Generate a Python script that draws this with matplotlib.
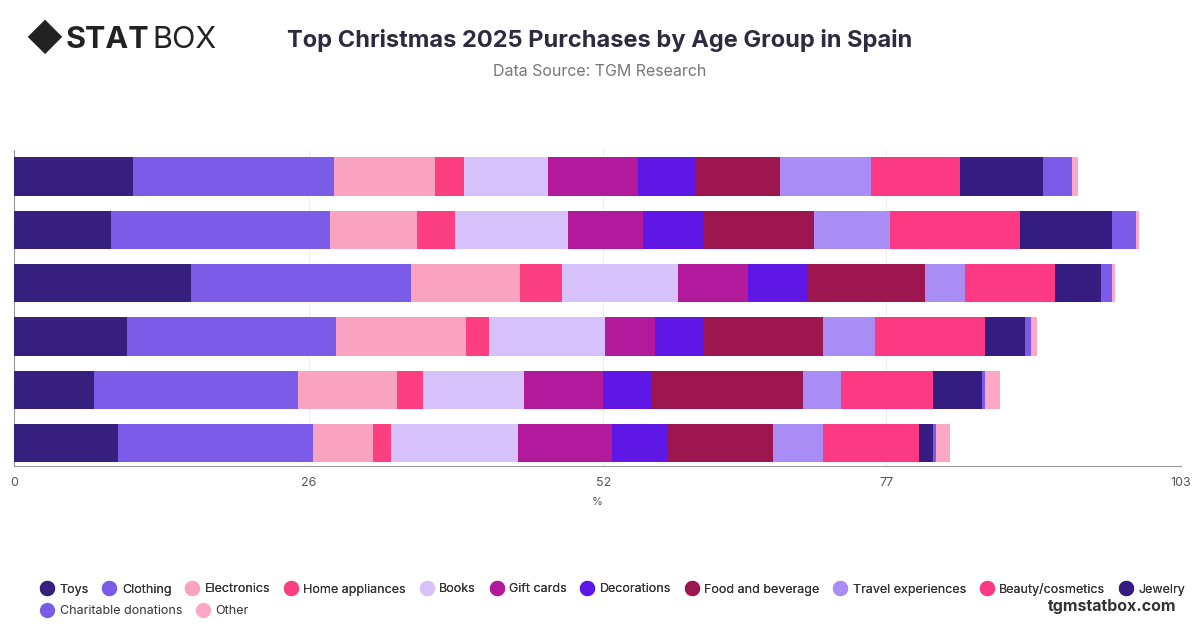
import matplotlib
matplotlib.use("Agg")
import matplotlib.pyplot as plt
import numpy as np

plt.rcParams['font.family'] = ['Inter', 'DejaVu Sans']

groups = ["G1", "G2", "G3", "G4", "G5", "G6"]
categories = ["Toys", "Clothing", "Electronics", "Home appliances", "Books", "Gift cards",
              "Decorations", "Food and beverage", "Travel experiences", "Beauty/cosmetics",
              "Jewelry", "Charitable donations", "Other"]
values = [
    [10.5, 17.7, 9.0, 2.5, 7.4, 8.0, 5.1, 7.4, 8.0, 7.9, 7.3, 2.6, 0.5],
    [8.6, 19.3, 7.7, 3.3, 10.0, 6.6, 5.4, 9.7, 6.7, 11.5, 8.1, 2.1, 0.3],
    [15.6, 19.4, 9.7, 3.7, 10.2, 6.2, 5.3, 10.3, 3.5, 8.0, 4.0, 1.0, 0.3],
    [10.0, 18.4, 11.5, 2.0, 10.3, 4.4, 4.3, 10.5, 4.6, 9.7, 3.5, 0.6, 0.5],
    [7.1, 18.0, 8.7, 2.3, 8.9, 7.0, 4.3, 13.3, 3.4, 8.1, 4.3, 0.3, 1.3],
    [9.2, 17.2, 5.3, 1.6, 11.2, 8.3, 4.8, 9.4, 4.4, 8.5, 1.2, 0.3, 1.2],
]
colors = ["#35207f", "#7b5ce8", "#f9a3c0", "#fb3f80", "#d7c1fb", "#b3199b", "#5f17e6",
          "#9e1650", "#a98df5", "#fc3a84", "#341c80", "#7b5ce8", "#fca7c6"]
ticks = [0, 26, 52, 77, 103]

fig = plt.figure(figsize=(12, 6.28), dpi=100)
ax = fig.add_axes([14/1200, 1-466/628, 1167/1200, 316/628])
vals = np.array(values)
y = np.arange(len(groups))
left = np.zeros(len(groups))
for j, cat in enumerate(categories):
    ax.barh(y, vals[:, j], left=left, height=0.72, color=colors[j], label=cat, zorder=3)
    left += vals[:, j]
ax.set_ylim(5.43, -0.5)
ax.set_xlim(0, 103)
ax.set_xticks(ticks)
ax.set_xticklabels([str(t) for t in ticks], fontsize=9, color="#555555")
ax.set_yticks([])
ax.grid(axis='x', color="#eeeeee", zorder=0)
for s in ["top", "right"]:
    ax.spines[s].set_visible(False)
ax.spines["left"].set_color("#999999")
ax.spines["bottom"].set_color("#999999")
ax.tick_params(axis='x', length=0, pad=8)
ax.set_xlabel("%", fontsize=8, color="#555555", labelpad=6)

fig.text(0.5, 1-40/628, "Top Christmas 2025 Purchases by Age Group in Spain", ha="center",
         va="center", fontsize=17, fontweight="bold", color="#2e2a40")
fig.text(0.5, 1-71/628, "Data Source: TGM Research", ha="center", va="center",
         fontsize=11.5, color="#777777")
fig.text(0.021, 1-40/628, "◆", fontsize=26, va="center", color="#222222")
fig.text(0.055, 1-40/628, "STAT", fontsize=22, fontweight="bold", va="center", color="#222222")
fig.text(0.127, 1-40/628, "BOX", fontsize=22, va="center", color="#222222")
fig.text(0.98, 1-606/628, "tgmstatbox.com", ha="right", va="center", fontsize=11.5,
         fontweight="bold", color="#333333")

handles = [plt.Line2D([], [], marker='o', ls='', markersize=10, color=c) for c in colors]
kw = dict(frameon=False, fontsize=9, handletextpad=0.4, columnspacing=1.05,
          labelcolor="#333333", borderpad=0, borderaxespad=0, handlelength=1.2)
leg1 = fig.legend(handles[:11], categories[:11], loc="center left",
                  bbox_to_anchor=(0.033, 1-589/628), ncol=11, **kw)
fig.add_artist(leg1)
fig.legend(handles[11:], categories[11:], loc="center left",
           bbox_to_anchor=(0.033, 1-611/628), ncol=2, **kw)
fig.savefig("out.png", dpi=100)
